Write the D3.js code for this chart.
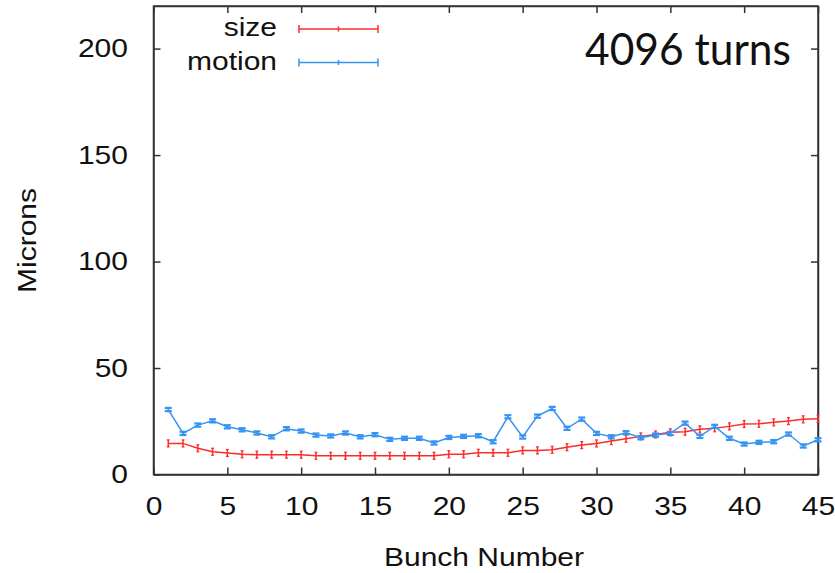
<!DOCTYPE html>
<html>
<head>
<meta charset="utf-8">
<script src="https://cdn.jsdelivr.net/npm/d3@7"></script>
<style>
  html, body { margin: 0; padding: 0; background: #fff; }
  svg { display: block; }
  text { font-family: "Liberation Sans", Arial, sans-serif; fill: #111; }
</style>
</head>
<body>
<svg id="chart" width="835" height="573"></svg>
<script>
// Bunch number along the train
const bunches = d3.range(1, 46);

// Beam size per bunch (microns)
const sizeValues = [
  14.6, 14.6, 12.3, 10.7, 10.1, 9.5, 9.3, 9.3, 9.3, 9.3,
  8.8, 8.8, 8.8, 8.8, 8.8, 8.8, 8.8, 8.8, 8.8, 9.5,
  9.5, 10.2, 10.2, 10.2, 11.3, 11.3, 11.6, 12.8, 13.8, 14.6,
  15.7, 16.8, 17.9, 18.8, 19.8, 20.1, 21.2, 21.7, 22.6, 23.7,
  23.8, 24.5, 25.1, 25.9, 26.2
];

// Beam motion per bunch (microns)
const motionValues = [
  30.5, 19.3, 23.2, 25.2, 22.4, 21.0, 19.5, 17.7, 21.5, 20.4,
  18.5, 18.1, 19.5, 17.7, 18.7, 16.5, 17.0, 17.0, 14.8, 17.4,
  17.9, 18.2, 15.4, 27.1, 17.6, 27.4, 31.0, 21.7, 26.0, 19.3,
  17.7, 19.6, 17.3, 18.5, 19.3, 24.1, 17.9, 22.6, 17.0, 14.3,
  15.1, 15.4, 19.0, 13.4, 16.3
];

const xTicks = [0, 5, 10, 15, 20, 25, 30, 35, 40, 45];
const yTicks = [0, 50, 100, 150, 200];
const seriesNames = ["size", "motion"];
const titleText = "4096 turns";

const colors = { size: "#ff2b2b", motion: "#3593f2" };
const SX = 1.2; // horizontal stretch of the axis lettering

const svg = d3.select("#chart");
const plotLeft = 153.5, plotRight = 818, plotTop = 6, plotBottom = 474.5;

const x = d3.scaleLinear().domain([0, 45]).range([plotLeft, plotRight]);
const y = d3.scaleLinear().domain([0, 220]).range([plotBottom, plotTop]);

const axisColor = "#333";

// Bottom axis with labels
const gx = svg.append("g").attr("transform", `translate(0,${plotBottom})`)
  .call(d3.axisBottom(x).tickValues(xTicks).tickSizeInner(-7).tickSizeOuter(0));
gx.selectAll("text")
  .attr("y", 40.5).attr("dy", 0)
  .attr("transform", `scale(${SX},1)`)
  .style("font-size", "25px");

// Top mirror ticks
svg.append("g").attr("transform", `translate(0,${plotTop})`)
  .call(d3.axisTop(x).tickValues(xTicks).tickSizeInner(-7).tickSizeOuter(0).tickFormat(""));

// Left axis with labels
const gy = svg.append("g").attr("transform", `translate(${plotLeft},0)`)
  .call(d3.axisLeft(y).tickValues(yTicks).tickSizeInner(-7).tickSizeOuter(0));
gy.selectAll("text")
  .attr("x", -25.5 / SX).attr("dy", "0.32em")
  .attr("transform", `scale(${SX},1)`)
  .style("font-size", "25px");

// Right mirror ticks
svg.append("g").attr("transform", `translate(${plotRight},0)`)
  .call(d3.axisRight(y).tickValues(yTicks).tickSizeInner(-7).tickSizeOuter(0).tickFormat(""));

svg.selectAll(".domain, .tick line")
  .attr("stroke", axisColor).attr("stroke-width", 1.5);
svg.selectAll(".tick text").attr("fill", "#111").attr("font-family", "Liberation Sans, Arial, sans-serif");

// Plot frame
svg.append("rect")
  .attr("x", plotLeft).attr("y", plotTop)
  .attr("width", plotRight - plotLeft).attr("height", plotBottom - plotTop)
  .attr("fill", "none").attr("stroke", axisColor).attr("stroke-width", 1.5);

// Series lines with small error-bar markers
function drawSeries(values, color, barHalf, capHalf, capWidth) {
  const pts = bunches.map((b, i) => [b, values[i]]);
  svg.append("path")
    .datum(pts)
    .attr("fill", "none")
    .attr("stroke", color)
    .attr("stroke-width", 1.5)
    .attr("d", d3.line().x(d => x(d[0])).y(d => y(d[1])));
  const m = svg.append("g").attr("stroke", color);
  m.selectAll("line.bar").data(pts).join("line")
    .attr("class", "bar")
    .attr("x1", d => x(d[0])).attr("x2", d => x(d[0]))
    .attr("y1", d => y(d[1]) - barHalf).attr("y2", d => y(d[1]) + barHalf)
    .attr("stroke-width", 1.5);
  [-barHalf, barHalf].forEach(off => {
    m.append("g").selectAll("line").data(pts).join("line")
      .attr("x1", d => x(d[0]) - capHalf).attr("x2", d => x(d[0]) + capHalf)
      .attr("y1", d => y(d[1]) + off).attr("y2", d => y(d[1]) + off)
      .attr("stroke-width", capWidth);
  });
}
drawSeries(sizeValues, colors.size, 3.5, 1.5, 1.2);
drawSeries(motionValues, colors.motion, 1.6, 3.5, 2.2);

// Legend
const legendRows = [
  { name: seriesNames[0], color: colors.size, y: 29, textY: 36 },
  { name: seriesNames[1], color: colors.motion, y: 62.5, textY: 70 }
];
legendRows.forEach(r => {
  svg.append("text")
    .attr("transform", `translate(277,${r.textY}) scale(${SX},1)`)
    .attr("text-anchor", "end")
    .style("font-size", "25px")
    .text(r.name);
  const g = svg.append("g").attr("stroke", r.color).attr("stroke-width", 1.5);
  g.append("line").attr("x1", 299).attr("x2", 378).attr("y1", r.y).attr("y2", r.y);
  [299, 378].forEach(cx => g.append("line")
    .attr("x1", cx).attr("x2", cx).attr("y1", r.y - 4).attr("y2", r.y + 4));
  g.append("line").attr("x1", 338.5).attr("x2", 338.5).attr("y1", r.y - 2.5).attr("y2", r.y + 2.5);
});

// Axis titles
svg.append("text")
  .attr("transform", `translate(484,565.5) scale(${SX},1)`)
  .attr("text-anchor", "middle")
  .style("font-size", "25px")
  .text("Bunch Number");

svg.append("text")
  .attr("transform", `translate(36,240.5) rotate(-90) scale(${SX},1)`)
  .attr("text-anchor", "middle")
  .style("font-size", "25px")
  .text("Microns");

// Turn count annotation
svg.append("text")
  .attr("x", 585).attr("y", 65)
  .style("font-family", "Lato, 'Open Sans', sans-serif")
  .style("font-size", "44px")
  .attr("textLength", 206)
  .attr("lengthAdjust", "spacingAndGlyphs")
  .attr("fill", "#000")
  .text(titleText);
</script>
</body>
</html>
